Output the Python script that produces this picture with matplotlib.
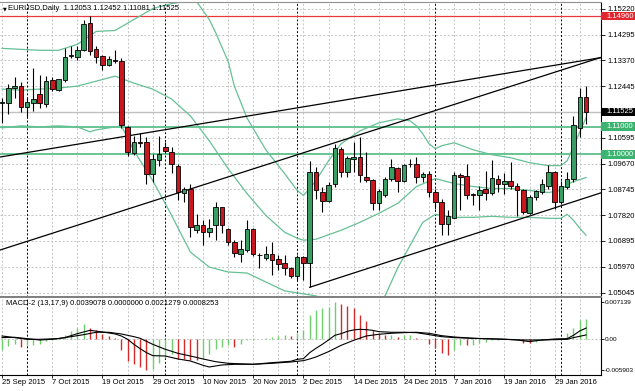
import numpy as np
import matplotlib
matplotlib.use("Agg")
import matplotlib.pyplot as plt
import matplotlib.transforms as mtransforms
from matplotlib.patches import Rectangle

plt.rcParams['font.family'] = ['Liberation Sans', 'DejaVu Sans']

# EURUSD daily candles, 25 Sep 2015 .. 5 Feb 2016
opens = [1.1185, 1.1185, 1.1237, 1.1245, 1.1170, 1.1184, 1.1215, 1.1182, 1.1267, 1.1232,
         1.1268, 1.1352, 1.1351, 1.1374, 1.1470, 1.1378, 1.1352, 1.1322, 1.1340, 1.1334,
         1.1099, 1.1006, 1.1046, 1.1043, 1.0930, 1.0980, 1.1027, 1.1010, 1.0960, 1.0861,
         1.0877, 1.0730, 1.0748, 1.0722, 1.0748, 1.0811, 1.0734, 1.0686, 1.0642, 1.0656,
         1.0733, 1.0640, 1.0630, 1.0642, 1.0623, 1.0609, 1.0591, 1.0564, 1.0633, 1.0611,
         1.0936, 1.0864, 1.0834, 1.0892, 1.1019, 1.0936, 1.0985, 1.0992, 1.0920, 1.0909,
         1.0825, 1.0855, 1.0912, 1.0952, 1.0906, 1.0966, 1.0966, 1.0918, 1.0930, 1.0864,
         1.0829, 1.0749, 1.0773, 1.0927, 1.0924, 1.0857, 1.0856, 1.0877, 1.0861, 1.0912,
         1.0892, 1.0904, 1.0888, 1.0871, 1.0790, 1.0847, 1.0864, 1.0888, 1.0936, 1.0829,
         1.0882, 1.0912, 1.1096, 1.12053]
highs = [1.1203, 1.1251, 1.1277, 1.1259, 1.1203, 1.1310, 1.1283, 1.1281, 1.1277, 1.1271,
         1.1382, 1.1388, 1.1390, 1.1483, 1.1496, 1.1390, 1.1358, 1.1352, 1.1373, 1.1344,
         1.1102, 1.1067, 1.1075, 1.1061, 1.1001, 1.1067, 1.1043, 1.1025, 1.0966, 1.0882,
         1.0894, 1.0787, 1.0763, 1.0767, 1.0829, 1.0813, 1.0736, 1.0692, 1.0692, 1.0763,
         1.0736, 1.0645, 1.0671, 1.0686, 1.0639, 1.0639, 1.0597, 1.0639, 1.0636, 1.0977,
         1.0954, 1.0882, 1.0900, 1.1037, 1.1025, 1.0995, 1.1043, 1.1061, 1.1007, 1.0912,
         1.0876, 1.0920, 1.0984, 1.0954, 1.0966, 1.0984, 1.0992, 1.0936, 1.0942, 1.0876,
         1.0841, 1.0799, 1.0936, 1.0932, 1.0966, 1.0860, 1.0888, 1.0940, 1.0980, 1.0927,
         1.0932, 1.0971, 1.0897, 1.0876, 1.0853, 1.0873, 1.0912, 1.0963, 1.0942, 1.0906,
         1.0936, 1.1138, 1.1237, 1.12452]
lows = [1.1114, 1.1144, 1.1203, 1.1152, 1.1132, 1.1156, 1.1167, 1.1169, 1.1227, 1.1227,
        1.1259, 1.1346, 1.1337, 1.1370, 1.1358, 1.1328, 1.1302, 1.1316, 1.1328, 1.1096,
        1.0995, 1.0999, 1.1025, 1.0894, 1.0900, 1.0960, 1.1006, 1.0932, 1.0837, 1.0829,
        1.0704, 1.0718, 1.0674, 1.0704, 1.0692, 1.0717, 1.0675, 1.0633, 1.0615, 1.0650,
        1.0635, 1.0591, 1.0621, 1.0567, 1.0585, 1.0567, 1.0555, 1.0549, 1.0549, 1.0524,
        1.0841, 1.0793, 1.0829, 1.0882, 1.0920, 1.0920, 1.0936, 1.0900, 1.0900, 1.0799,
        1.0802, 1.0847, 1.0904, 1.0864, 1.0900, 1.0954, 1.0897, 1.0900, 1.0847, 1.0805,
        1.0710, 1.0710, 1.0770, 1.0799, 1.0841, 1.0817, 1.0802, 1.0835, 1.0853, 1.0864,
        1.0859, 1.0877, 1.0778, 1.0787, 1.0787, 1.0837, 1.0859, 1.0877, 1.0805, 1.0821,
        1.0877, 1.0900, 1.1063, 1.11081]
closes = [1.1187, 1.1239, 1.1245, 1.1170, 1.1189, 1.1200, 1.1184, 1.1265, 1.1233, 1.1269,
          1.1348, 1.1358, 1.1374, 1.1467, 1.1372, 1.1348, 1.1322, 1.1342, 1.1334, 1.1106,
          1.1007, 1.1046, 1.1041, 1.0930, 1.0984, 1.1001, 1.1011, 1.0966, 1.0864, 1.0877,
          1.0740, 1.0748, 1.0722, 1.0736, 1.0811, 1.0748, 1.0686, 1.0645, 1.0659, 1.0733,
          1.0641, 1.0639, 1.0642, 1.0621, 1.0607, 1.0593, 1.0564, 1.0633, 1.0611, 1.0936,
          1.0873, 1.0832, 1.0891, 1.1023, 1.0936, 1.0987, 1.0992, 1.0927, 1.0909, 1.0825,
          1.0870, 1.0912, 1.0954, 1.0904, 1.0963, 1.0965, 1.0918, 1.0930, 1.0864, 1.0829,
          1.0752, 1.0778, 1.0927, 1.0918, 1.0856, 1.0856, 1.0873, 1.0861, 1.0916, 1.0894,
          1.0904, 1.0888, 1.0873, 1.0793, 1.0847, 1.0868, 1.0892, 1.0936, 1.0829, 1.0888,
          1.0912, 1.1106, 1.1206, 1.11525]

# Bollinger bands (bar index, price)
upper_i = [0, 3, 6, 9, 12, 15, 18, 21, 24, 27, 30, 31, 33, 34, 36, 37, 39, 42, 45, 47,
           48, 49, 50, 52, 54, 57, 60, 63, 65, 66, 67, 68, 69, 70, 72, 75, 78, 81, 84, 87,
           89, 90, 91, 92, 93]
upper_p = [1.13804, 1.13768, 1.13733, 1.13733, 1.13947, 1.14410, 1.14446, 1.14838, 1.15230, 1.15409,
           1.15516, 1.15480, 1.14838, 1.14375, 1.13340, 1.12449, 1.11308, 1.10167, 1.09311, 1.08705,
           1.08526, 1.08776, 1.09061, 1.09774, 1.10381, 1.10844, 1.11130, 1.11272, 1.11201, 1.11023,
           1.10737, 1.10381, 1.10203, 1.10310, 1.10417, 1.10167, 1.09988, 1.09881, 1.09703, 1.09596,
           1.09596, 1.09774, 1.10274, 1.10809, 1.11308]
mid_i = [0, 3, 6, 9, 12, 15, 18, 21, 24, 27, 30, 33, 36, 39, 42, 45, 47, 48, 50, 54,
         57, 60, 63, 66, 69, 72, 75, 78, 81, 84, 87, 89, 90, 91, 93]
mid_p = [1.12342, 1.12306, 1.12342, 1.12378, 1.12449, 1.12627, 1.12806, 1.12556, 1.12342, 1.11985,
         1.11379, 1.10488, 1.09489, 1.08598, 1.07813, 1.07207, 1.06993, 1.06922, 1.06957, 1.07278,
         1.07563, 1.07884, 1.08241, 1.08847, 1.09133, 1.08954, 1.08847, 1.08776, 1.08776, 1.08705,
         1.08633, 1.08705, 1.08919, 1.09026, 1.09168]
lower_i = [0, 3, 6, 9, 12, 14, 15, 18, 19, 20, 21, 24, 27, 30, 33, 36, 39, 42, 45, 48,
           50, 52, 57, 60, 61, 63, 65, 67, 69, 72, 75, 78, 81, 84, 87, 89, 90, 91, 92, 93]
lower_p = [1.10951, 1.11023, 1.10987, 1.11023, 1.10987, 1.10809, 1.10880, 1.10987, 1.11023, 1.10595,
           1.10131, 1.09061, 1.07813, 1.06494, 1.05959, 1.05781, 1.05745, 1.05424, 1.05103, 1.04996,
           1.04925, 1.04711, 1.04425, 1.04782, 1.04925, 1.05923, 1.06743, 1.07563, 1.07849, 1.07742,
           1.07742, 1.07777, 1.07742, 1.07742, 1.07706, 1.07706, 1.07849, 1.07635, 1.07350, 1.07100]

# trend lines: (bar index, price) anchors
trend1 = [(0, 1.09917), (93, 1.13382)]
trend2 = [(0, 1.06592), (93, 1.13307)]
trend3 = [(49, 1.05233), (93, 1.08447)]

level_red = 1.14960
levels_green = [1.11000, 1.10000]
bid = 1.11525

# MACD-2 (13,17,9)
hist = [-0.00202, -0.00126, -0.00095, -0.00139, -0.00114, -0.00101, -0.00088, -0.00038, -0.00013, 0.00025,
        0.00076, 0.00158, 0.00208, 0.00284, 0.00221, 0.00170, 0.00095, 0.00057, 0.00019, -0.00202,
        -0.00410, -0.00473, -0.00517, -0.005903, -0.00568, -0.00442, -0.00347, -0.00284, -0.00366, -0.00379,
        -0.00385, -0.00391, -0.00347, -0.00284, -0.00189, -0.00139, -0.00107, -0.00139, -0.00095, -0.00019,
        -0.00006, 0.0, 0.00019, 0.00050, 0.00063, 0.00076, 0.00069, 0.00126, 0.00177, 0.00461,
        0.00555, 0.00587, 0.00618, 0.007139, 0.00669, 0.00637, 0.00587, 0.00461, 0.00347, 0.00177,
        0.00114, 0.00082, 0.00088, 0.00050, 0.00082, 0.00088, 0.00019, 0.0, -0.00095, -0.00158,
        -0.00265, -0.00297, -0.00202, -0.00107, -0.00114, -0.00107, -0.00076, -0.00057, -0.00019, -0.00006,
        0.0, 0.0, 0.0, -0.00063, -0.00076, -0.00044, -0.00019, -0.00006, 0.0, 0.00019,
        0.00114, 0.00208, 0.00360, 0.0039078]
fast_i = [0, 2, 4, 6, 8, 10, 12, 14, 16, 18, 19, 20, 21, 22, 23, 24, 26, 28, 30, 32,
          33, 35, 37, 40, 43, 46, 47, 48, 49, 50, 51, 52, 53, 54, 55, 56, 57, 58, 59, 60,
          62, 64, 66, 68, 70, 72, 75, 78, 80, 82, 84, 86, 88, 90, 91, 92, 93]
fast_v = [0.00032, 0.00038, 0.00013, -0.00013, 0.0, 0.00032, 0.00107, 0.00170, 0.00139, 0.00101,
          0.00063, 0.0, -0.00095, -0.00177, -0.00252, -0.00309, -0.00316, -0.00372, -0.00410, -0.00492,
          -0.00524, -0.00486, -0.00473, -0.00473, -0.00442, -0.00416, -0.00379, -0.00366, -0.00252, -0.00170,
          -0.00095, -0.00013, 0.00076, 0.00107, 0.00151, 0.00177, 0.00189, 0.00183, 0.00170, 0.00145,
          0.00133, 0.00133, 0.00126, 0.00088, 0.00050, 0.00032, 0.00019, 0.00006, 0.0, -0.00013,
          -0.00044, -0.00013, 0.00006, 0.00013, 0.00076, 0.00158, 0.0021279]
slow_i = [0, 2, 4, 6, 9, 11, 13, 15, 17, 19, 21, 22, 24, 26, 28, 30, 32, 34, 36, 40,
          43, 46, 48, 49, 50, 52, 54, 56, 58, 60, 62, 64, 66, 68, 70, 72, 75, 79, 83, 86,
          90, 91, 92, 93]
slow_v = [0.00063, 0.00032, 0.0, 0.0, 0.00013, 0.00050, 0.00088, 0.00133, 0.00133, 0.00101,
          0.00050, 0.00019, -0.00095, -0.00189, -0.00265, -0.00316, -0.00372, -0.00423, -0.00454, -0.00473,
          -0.00454, -0.00429, -0.00404, -0.00372, -0.00334, -0.00233, -0.00114, -0.00019, 0.00063, 0.00095,
          0.00114, 0.00126, 0.00133, 0.00114, 0.00069, 0.00044, 0.00019, 0.00006, -0.00013, -0.00013,
          0.0, 0.00032, 0.00057, 0.0008253]

price_ticks = [1.15220, 1.14295, 1.13370, 1.12445, 1.11520, 1.10595, 1.09670,
               1.08745, 1.07820, 1.06895, 1.05970, 1.05045]
macd_ticks = [0.007139, 0.0, -0.005903]
macd_tick_labels = ['0.007139', '0.00', '-0.005903']
date_ticks = [0, 8, 16, 24, 32, 40, 48, 56, 64, 72, 80, 88]
date_labels = ['25 Sep 2015', '7 Oct 2015', '19 Oct 2015', '29 Oct 2015', '10 Nov 2015',
               '20 Nov 2015', '2 Dec 2015', '14 Dec 2015', '24 Dec 2015', '7 Jan 2016',
               '19 Jan 2016', '29 Jan 2016']
month_starts = [4, 26, 47, 69, 89]

GREEN = '#3a9d63'
RED = '#c8171e'
BAND = '#66c096'
HLINE = '#5cbf8a'
GRID = '#c4c4c4'
FS = 5.5

W, H = 635, 391
fig = plt.figure(figsize=(W / 100, H / 100), dpi=100)
ax = fig.add_axes([0, 1 - 296.5 / H, 601 / W, 294.5 / H])
ax2 = fig.add_axes([0, 1 - 374.5 / H, 601 / W, 78 / H])

o = np.array(opens)
h = np.array(highs)
l = np.array(lows)
c = np.array(closes)
x = np.arange(len(o))

# price panel
for xi in month_starts:
    ax.axvline(xi, color='black', lw=0.7, ls=(0, (2, 2)), zorder=1)
ax.axhline(bid, color='#c0c0c0', lw=1.0, zorder=1)
ax.axhline(level_red, color='#e8383d', lw=0.9, zorder=1)
for lv in levels_green:
    ax.axhline(lv, color=HLINE, lw=1.3, zorder=1)

ax.plot(upper_i, upper_p, color=BAND, lw=0.9, zorder=2)
ax.plot(mid_i, mid_p, color=BAND, lw=0.9, zorder=2)
ax.plot(lower_i, lower_p, color=BAND, lw=0.9, zorder=2)

ax.axline(trend1[0], trend1[1], color='black', lw=0.9, zorder=2)
ax.axline(trend2[0], trend2[1], color='black', lw=0.9, zorder=2)
slope3 = (trend3[1][1] - trend3[0][1]) / (trend3[1][0] - trend3[0][0])
ax.plot([trend3[0][0], 100], [trend3[0][1], trend3[0][1] + slope3 * (100 - trend3[0][0])],
        color='black', lw=0.9, zorder=2)

body_col = np.where(c > o, GREEN, np.where(c < o, RED, 'black'))
ax.vlines(x, l, h, color='black', lw=0.8, zorder=3)
ax.bar(x, np.abs(c - o), bottom=np.minimum(o, c), width=0.72, color=body_col,
       edgecolor='black', linewidth=0.6, zorder=4)

ax.set_xlim(-0.32, 95.38)
ax.set_ylim(1.04902, 1.15466)
ax.set_xticks(range(0, 94, 4))
ax.set_yticks(price_ticks)
ax.set_yticklabels(['%.5f' % p for p in price_ticks])
ax.yaxis.tick_right()
ax.tick_params(axis='x', length=0, labelbottom=False)
ax.tick_params(axis='y', length=3, width=0.6, pad=1.5, labelsize=FS)
ax.grid(True, color=GRID, lw=0.7, ls=(0, (2, 2)), zorder=0)
ax.set_axisbelow(True)
ax.spines['left'].set_visible(False)
ax.spines['top'].set_color('#909090')
ax.spines['bottom'].set_color('#808080')
ax.spines['bottom'].set_linewidth(1.4)
ax.spines['right'].set_linewidth(0.8)

ax.text(0.0083, 0.978, '\u25bc', transform=ax.transAxes, fontsize=3.5, ha='center', va='center',
        family=['DejaVu Sans'])
ax.text(0.0138, 0.978, 'EURUSD,Daily  1.12053 1.12452 1.11081 1.11525', transform=ax.transAxes,
        fontsize=FS, ha='left', va='center')

# price boxes on the axis
tr = mtransforms.blended_transform_factory(ax.transAxes, ax.transData)
for val, col in [(level_red, '#e3262d'), (bid, 'black'), (levels_green[0], '#3cb371'), (levels_green[1], '#3cb371')]:
    fig.add_artist(Rectangle((1.0, val - 0.00152), 0.06, 0.00304, transform=tr,
                             facecolor=col, edgecolor=col, lw=0, zorder=5))
    fig.text(1.0083, val, '%.5f' % val, transform=tr, color='white', fontsize=FS,
             ha='left', va='center', zorder=6)

# MACD panel
hv = np.array(hist)
hist_col = np.where(np.diff(hv, prepend=hv[0] - 1) >= 0, '#6fcf6f', '#d42a2a')
for xi in month_starts:
    ax2.axvline(xi, color='black', lw=0.7, ls=(0, (2, 2)), zorder=1)
ax2.axhline(0, color=GRID, lw=0.7, ls=(0, (2, 2)), zorder=0)
ax2.vlines(x, 0, hv, colors=hist_col, lw=1.0, zorder=2)
ax2.plot(fast_i, fast_v, color='black', lw=0.8, zorder=3)
ax2.plot(slow_i, slow_v, color='black', lw=0.8, zorder=3)

ax2.set_xlim(-0.32, 95.38)
ax2.set_ylim(-0.00666, 0.0081)
ax2.set_xticks(date_ticks)
ax2.set_xticklabels(date_labels)
ax2.set_xticks(range(4, 94, 8), minor=True)
for lab in ax2.get_xticklabels():
    lab.set_ha('left')
ax2.set_yticks(macd_ticks)
ax2.set_yticklabels(macd_tick_labels)
ax2.yaxis.tick_right()
ax2.tick_params(axis='x', which='major', length=2.5, width=0.6, pad=1, labelsize=FS)
ax2.tick_params(axis='x', which='minor', length=0)
ax2.tick_params(axis='y', length=2, width=0.6, pad=0.8, labelsize=4.6)
ax2.grid(True, axis='x', which='both', color=GRID, lw=0.7, ls=(0, (2, 2)), zorder=0)
ax2.set_axisbelow(True)
ax2.spines['left'].set_visible(False)
ax2.spines['top'].set_color('#808080')
ax2.spines['top'].set_linewidth(1.4)
ax2.spines['bottom'].set_linewidth(0.8)
ax2.spines['right'].set_linewidth(0.8)
ax2.text(0.01, 0.91, 'MACD-2 (13,17,9) 0.0039078 0.0000000 0.0021279 0.0008253',
         transform=ax2.transAxes, fontsize=FS, ha='left', va='center')

fig.savefig('out.png', dpi=100, facecolor='white')
